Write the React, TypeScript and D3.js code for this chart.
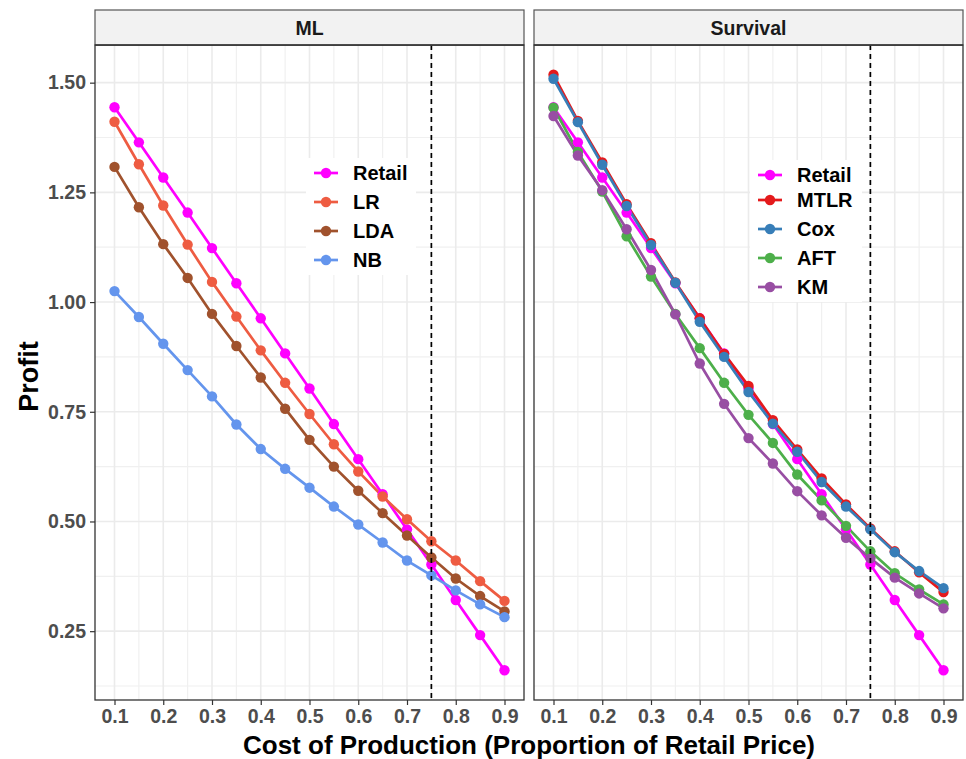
import React, { useRef, useEffect } from "react";
import * as d3 from "d3";

// costes de producción (eje x)
const costs = [0.1, 0.15, 0.2, 0.25, 0.3, 0.35, 0.4, 0.45, 0.5, 0.55, 0.6, 0.65, 0.7, 0.75, 0.8, 0.85, 0.9];
const xTicks = [0.1, 0.2, 0.3, 0.4, 0.5, 0.6, 0.7, 0.8, 0.9];
const yTicks = [0.25, 0.5, 0.75, 1.0, 1.25, 1.5];

const retail = [1.444, 1.364, 1.284, 1.204, 1.123, 1.043, 0.963, 0.883, 0.803, 0.722, 0.642, 0.562, 0.482, 0.402, 0.321, 0.241, 0.161];
const lr = [1.411, 1.314, 1.220, 1.131, 1.046, 0.967, 0.890, 0.816, 0.745, 0.676, 0.614, 0.557, 0.505, 0.455, 0.411, 0.364, 0.319];
const lda = [1.308, 1.216, 1.132, 1.055, 0.973, 0.900, 0.828, 0.757, 0.686, 0.625, 0.570, 0.519, 0.468, 0.418, 0.370, 0.330, 0.295];
const nb = [1.025, 0.966, 0.905, 0.845, 0.785, 0.721, 0.665, 0.620, 0.577, 0.534, 0.493, 0.452, 0.411, 0.377, 0.343, 0.311, 0.282];

const mtlr = [1.518, 1.413, 1.318, 1.223, 1.134, 1.045, 0.963, 0.882, 0.809, 0.731, 0.664, 0.598, 0.539, 0.484, 0.432, 0.384, 0.339];
const cox = [1.509, 1.410, 1.313, 1.219, 1.130, 1.044, 0.955, 0.875, 0.795, 0.723, 0.659, 0.590, 0.534, 0.482, 0.430, 0.387, 0.348];
const aft = [1.443, 1.342, 1.252, 1.150, 1.058, 0.973, 0.895, 0.816, 0.743, 0.679, 0.607, 0.548, 0.490, 0.432, 0.382, 0.345, 0.311];
const km = [1.424, 1.334, 1.255, 1.166, 1.073, 0.972, 0.860, 0.768, 0.690, 0.632, 0.569, 0.514, 0.463, 0.416, 0.372, 0.336, 0.302];

const panels = [
  {
    title: "ML",
    series: [
      { name: "Retail", color: "#FF00FF", values: retail },
      { name: "LR", color: "#EE5C42", values: lr },
      { name: "LDA", color: "#A0522D", values: lda },
      { name: "NB", color: "#6495ED", values: nb },
    ],
    legend: { x: 306, y: 158, w: 110, ys: [173, 202, 231, 260] },
  },
  {
    title: "Survival",
    series: [
      { name: "Retail", color: "#FF00FF", values: retail },
      { name: "MTLR", color: "#E41A1C", values: mtlr },
      { name: "Cox", color: "#377EB8", values: cox },
      { name: "AFT", color: "#4DAF4A", values: aft },
      { name: "KM", color: "#984EA3", values: km },
    ],
    legend: { x: 750, y: 160, w: 112, ys: [175, 200, 229, 258, 287] },
  },
];

const cutoff = 0.75;

const ProfitChart = ({ width = 966, height = 759 }) => {
  const ref = useRef<SVGSVGElement>(null);

  useEffect(() => {
    const container = ref.current;
    if (!container) return;
    d3.select(container).selectChildren().remove();

    const svg = d3
      .select(container)
      .style("font-family", "'Liberation Sans', Arial, sans-serif");

    const panelLeft = [95, 534];
    const panelW = 429;
    const stripTop = 10,
      stripBottom = 45,
      panelBottom = 700;

    // escalas (expansión 5% como ggplot)
    const allY = panels.flatMap((p) => p.series.flatMap((s) => s.values));
    const [ymin, ymax] = d3.extent(allY) as [number, number];
    const ypad = (ymax - ymin) * 0.05;
    const y = d3
      .scaleLinear()
      .domain([ymin - ypad, ymax + ypad])
      .range([panelBottom, stripBottom]);
    const [xmin, xmax] = d3.extent(costs) as [number, number];
    const xpad = (xmax - xmin) * 0.05;

    const minorY = d3.range(0.125, 1.6, 0.25);
    const minorX = d3.range(0.15, 0.9, 0.1);

    panels.forEach((p, i) => {
      const x = d3
        .scaleLinear()
        .domain([xmin - xpad, xmax + xpad])
        .range([panelLeft[i], panelLeft[i] + panelW]);
      const g = svg.append("g");

      // fondo
      g.append("rect")
        .attr("x", panelLeft[i])
        .attr("y", stripBottom)
        .attr("width", panelW)
        .attr("height", panelBottom - stripBottom)
        .attr("fill", "white");

      // rejilla menor
      g.selectAll(".minx")
        .data(minorX)
        .join("line")
        .attr("x1", (d) => x(d))
        .attr("x2", (d) => x(d))
        .attr("y1", stripBottom)
        .attr("y2", panelBottom)
        .attr("stroke", "#f0f0f0")
        .attr("stroke-width", 1.2);
      g.selectAll(".miny")
        .data(minorY.filter((d) => y(d) > stripBottom && y(d) < panelBottom))
        .join("line")
        .attr("x1", panelLeft[i])
        .attr("x2", panelLeft[i] + panelW)
        .attr("y1", (d) => y(d))
        .attr("y2", (d) => y(d))
        .attr("stroke", "#f0f0f0")
        .attr("stroke-width", 1.2);

      // rejilla mayor
      g.selectAll(".majx")
        .data(xTicks)
        .join("line")
        .attr("x1", (d) => x(d))
        .attr("x2", (d) => x(d))
        .attr("y1", stripBottom)
        .attr("y2", panelBottom)
        .attr("stroke", "#ebebeb")
        .attr("stroke-width", 1.6);
      g.selectAll(".majy")
        .data(yTicks)
        .join("line")
        .attr("x1", panelLeft[i])
        .attr("x2", panelLeft[i] + panelW)
        .attr("y1", (d) => y(d))
        .attr("y2", (d) => y(d))
        .attr("stroke", "#ebebeb")
        .attr("stroke-width", 1.6);

      // líneas
      const line = d3
        .line<number>()
        .x((_d, j) => x(costs[j]))
        .y((d) => y(d));
      p.series.forEach((s) => {
        g.append("path")
          .attr("d", line(s.values))
          .attr("fill", "none")
          .attr("stroke", s.color)
          .attr("stroke-width", 2.7);
      });
      p.series.forEach((s) => {
        g.selectAll(null)
          .data(s.values)
          .join("circle")
          .attr("cx", (_d, j) => x(costs[j]))
          .attr("cy", (d) => y(d))
          .attr("r", 5.2)
          .attr("fill", s.color);
      });

      // línea de corte
      g.append("line")
        .attr("x1", x(cutoff))
        .attr("x2", x(cutoff))
        .attr("y1", stripBottom)
        .attr("y2", panelBottom)
        .attr("stroke", "black")
        .attr("stroke-width", 1.7)
        .attr("stroke-dasharray", "5,4");

      // leyenda
      const lg = p.legend;
      g.append("rect")
        .attr("x", lg.x)
        .attr("y", lg.y)
        .attr("width", lg.w)
        .attr("height", lg.ys[lg.ys.length - 1] - lg.y + 15)
        .attr("fill", "white");
      p.series.forEach((s, k) => {
        const ly = lg.ys[k];
        g.append("line")
          .attr("x1", lg.x + 8)
          .attr("x2", lg.x + 32)
          .attr("y1", ly)
          .attr("y2", ly)
          .attr("stroke", s.color)
          .attr("stroke-width", 2.7);
        g.append("circle")
          .attr("cx", lg.x + 20)
          .attr("cy", ly)
          .attr("r", 5.2)
          .attr("fill", s.color);
        g.append("text")
          .attr("x", lg.x + 47)
          .attr("y", ly)
          .attr("dy", "0.36em")
          .attr("font-size", 20)
          .attr("font-weight", "bold")
          .attr("fill", "black")
          .text(s.name);
      });

      // borde del panel
      g.append("rect")
        .attr("x", panelLeft[i])
        .attr("y", stripBottom)
        .attr("width", panelW)
        .attr("height", panelBottom - stripBottom)
        .attr("fill", "none")
        .attr("stroke", "#333")
        .attr("stroke-width", 1.3);

      // strip
      g.append("rect")
        .attr("x", panelLeft[i])
        .attr("y", stripTop)
        .attr("width", panelW)
        .attr("height", stripBottom - stripTop)
        .attr("fill", "#f2f2f2")
        .attr("stroke", "#555")
        .attr("stroke-width", 1.2);
      g.append("line")
        .attr("x1", panelLeft[i])
        .attr("x2", panelLeft[i] + panelW)
        .attr("y1", stripBottom)
        .attr("y2", stripBottom)
        .attr("stroke", "#333")
        .attr("stroke-width", 1.6);
      g.append("text")
        .attr("x", panelLeft[i] + panelW / 2)
        .attr("y", (stripTop + stripBottom) / 2)
        .attr("dy", "0.36em")
        .attr("text-anchor", "middle")
        .attr("font-size", 19.5)
        .attr("font-weight", "bold")
        .attr("fill", "#1a1a1a")
        .text(p.title);

      // eje X
      const ax = g
        .append("g")
        .attr("transform", `translate(0, ${panelBottom})`)
        .call(
          d3
            .axisBottom(x)
            .tickValues(xTicks)
            .tickSize(5)
            .tickPadding(4)
            .tickFormat(d3.format(".1f"))
        );
      ax.select(".domain").remove();
      ax.selectAll("line").attr("stroke", "#333").attr("stroke-width", 1.2);
      ax.selectAll("text")
        .attr("font-size", 19.5)
        .attr("font-weight", "bold")
        .attr("fill", "#4d4d4d")
        .attr("font-family", "'Liberation Sans', Arial, sans-serif");

      // eje Y (solo en el primer panel)
      if (i === 0) {
        const ay = g
          .append("g")
          .attr("transform", `translate(${panelLeft[i]}, 0)`)
          .call(
            d3
              .axisLeft(y)
              .tickValues(yTicks)
              .tickSize(5)
              .tickPadding(4)
              .tickFormat(d3.format(".2f"))
          );
        ay.select(".domain").remove();
        ay.selectAll("line").attr("stroke", "#333").attr("stroke-width", 1.2);
        ay.selectAll("text")
          .attr("font-size", 19.5)
          .attr("font-weight", "bold")
          .attr("fill", "#4d4d4d")
          .attr("font-family", "'Liberation Sans', Arial, sans-serif");
      }
    });

    // títulos de ejes
    svg
      .append("text")
      .attr("x", (95 + 963) / 2)
      .attr("y", 745)
      .attr("dy", "0.36em")
      .attr("text-anchor", "middle")
      .attr("font-size", 26)
      .attr("font-weight", "bold")
      .text("Cost of Production (Proportion of Retail Price)");
    svg
      .append("text")
      .attr("transform", `translate(28, ${(stripBottom + panelBottom) / 2 + 4}) rotate(-90)`)
      .attr("dy", "0.36em")
      .attr("text-anchor", "middle")
      .attr("font-size", 27)
      .attr("font-weight", "bold")
      .text("Profit");
  }, [width, height]);

  return (
    <svg
      ref={ref}
      width={width}
      height={height}
      style={{ position: "absolute", left: 0, top: 0, background: "white" }}
    />
  );
};

export default function App() {
  return <ProfitChart />;
}
